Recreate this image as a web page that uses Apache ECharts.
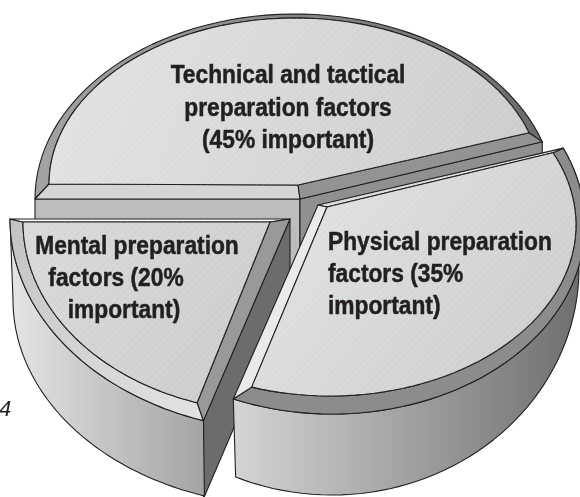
<!DOCTYPE html>
<html>
<head>
<meta charset="utf-8">
<style>
  html, body { margin: 0; padding: 0; background: #fff; }
  #echart { width: 580px; height: 497px; }
</style>
<script src="https://cdn.jsdelivr.net/npm/echarts@6/dist/echarts.min.js"></script>
</head>
<body>
<div id="echart"></div>
<script>
// values
var sliceNames = ["Technical and tactical", "Mental", "Physical"];
var sliceValues = [45, 20, 35];
var labelLines = [
    ["Technical and tactical", "preparation factors", "(45% important)"],
    ["Mental preparation", "factors (20%", "important)"],
    ["Physical preparation", "factors (35%", "important)"]
];
var sideNote = "4";

var LINE = "#231f20";

function grad(x2, y2, c0, c1) {
    return new echarts.graphic.LinearGradient(0, 0, x2, y2, [
        { offset: 0, color: c0 },
        { offset: 1, color: c1 }
    ]);
}

// the fine diagonal hatching on the top faces
function hatchTile() {
    var c = document.createElement("canvas");
    c.width = 7;
    c.height = 7;
    var ctx = c.getContext("2d");
    ctx.strokeStyle = "rgba(255,255,255,0.24)";
    ctx.lineWidth = 0.8;
    ctx.beginPath();
    ctx.moveTo(-1, 8);
    ctx.lineTo(8, -1);
    ctx.moveTo(-1, 1);
    ctx.lineTo(1, -1);
    ctx.moveTo(6, 8);
    ctx.lineTo(8, 6);
    ctx.stroke();
    return c;
}
var hatch = { image: hatchTile(), repeat: "repeat" };

// how each slice is projected: ellipses for the rim, the inner edge and the foot of the wall
var slices = [
    {
        hubOuter: [300, 199], hubInner: [298, 185], depth: 110,
        outer: { cx: 295, cy: 199, a: 260, b: 185, t0: 180, dir: -1, scale: 1 },
        inner: { cx: 295, cy: 184, a: 246, b: 166, t0: 180, dir: -1, scale: 1 },
        rim: grad(1, 0, "#a2a3a5", "#6a6b6d"),
        face: grad(1, 1, "#e2e3e5", "#cbccce"),
        cutStart: "#d4d5d7", cutEnd: "#929395",
        wallStart: "#bcbdbf", wallEnd: "#8f9092"
    },
    {
        hubOuter: [290, 219], hubInner: [270, 222], depth: 78,
        outer: { cx: 290, cy: 219, a: 280, b: 212, t0: 180, dir: 1, scale: 1 },
        inner: { cx: 275, cy: 222, a: 252, b: 190, t0: 180, dir: 1, scale: 1 },
        foot: { cx: 290, cy: 300, a: 277, b: 206, t0: 180, dir: 1, scale: 1 },
        wall: grad(1, 0, "#e4e5e6", "#a3a4a6"),
        rim: grad(1, 1, "#c2c3c5", "#e2e3e4"),
        face: grad(1, 1, "#d8d9db", "#cacbcd"),
        cutStart: "#ffffff", cutEnd: "#98999b",
        wallEnd: "#6b6c6e"
    },
    {
        hubOuter: [318, 205], hubInner: [327, 207],
        outer: { cx: 332, cy: 225, a: 253, b: 189, t0: 24, dir: -1, scale: 1.087 },
        inner: { cx: 330, cy: 225, a: 246, b: 171, t0: 25, dir: -1, scale: 1.06 },
        foot: { cx: 332, cy: 268, a: 247, b: 227, t0: 24, dir: -1, scale: 1.087 },
        wall: grad(1, 0, "#d4d5d7", "#6c6d6f"),
        rim: "#8b8c8e",
        face: grad(1, 1, "#e4e5e7", "#c9cacc"),
        cutStart: "#dcdddf", cutEnd: "#e9eaeb"
    }
];

function ring(r, value) {
    var pts = [];
    var span = value * 3.6 * r.scale;
    for (var i = 0; i <= 60; i++) {
        var t = (r.t0 + r.dir * span * i / 60) * Math.PI / 180;
        pts.push([r.cx + r.a * Math.cos(t), r.cy - r.b * Math.sin(t)]);
    }
    return pts;
}

function poly(points, fill, noLine) {
    return {
        type: "polygon",
        shape: { points: points },
        style: {
            fill: fill,
            stroke: noLine ? null : LINE,
            lineWidth: 1.1,
            lineJoin: "round"
        }
    };
}

function down(p, d) {
    return [p[0], p[1] + d];
}

function renderSlice(params, api) {
    var s = slices[params.dataIndex];
    var value = api.value(0);
    var out = ring(s.outer, value);
    var inn = ring(s.inner, value);
    var a0 = out[0], a1 = out[out.length - 1];
    var b0 = inn[0], b1 = inn[inn.length - 1];
    var kids = [];

    if (s.wallStart) {
        kids.push(poly([a0, s.hubOuter, down(s.hubOuter, s.depth), down(a0, s.depth)], s.wallStart));
    }
    if (s.wallEnd) {
        kids.push(poly([s.hubOuter, a1, down(a1, s.depth), down(s.hubOuter, s.depth)], s.wallEnd));
    }
    if (s.foot) {
        kids.push(poly(out.concat(ring(s.foot, value).reverse()), s.wall));
    }
    kids.push(poly(out.concat(inn.slice().reverse()), s.rim));
    kids.push(poly([s.hubOuter, a0, b0, s.hubInner], s.cutStart));
    kids.push(poly([s.hubOuter, a1, b1, s.hubInner], s.cutEnd));

    var facePts = [s.hubInner].concat(inn);
    kids.push(poly(facePts, s.face));
    kids.push(poly(facePts, hatch, true));

    return { type: "group", children: kids };
}

// text placement, one entry per line of each label
var labelPlace = [
    { x: [288, 288, 288], y: [76, 109, 141], align: "center" },
    { x: [137, 116, 124], y: [247, 279, 311], align: "center" },
    { x: [328, 328, 328], y: [243, 275, 307], align: "left" }
];

var textEls = [];
labelLines.forEach(function (lines, i) {
    lines.forEach(function (line, j) {
        textEls.push({
            type: "text",
            x: labelPlace[i].x[j],
            y: labelPlace[i].y[j],
            scaleX: 0.91,
            z: 10,
            style: {
                text: line,
                fill: LINE,
                stroke: LINE,
                lineWidth: 0.5,
                font: 'bold 25px "Liberation Sans", Arial, sans-serif',
                textAlign: labelPlace[i].align,
                textVerticalAlign: "middle"
            }
        });
    });
});
textEls.push({
    type: "text",
    x: 5,
    y: 410,
    z: 10,
    style: {
        text: sideNote,
        fill: LINE,
        font: 'italic 22px "Liberation Sans", Arial, sans-serif',
        textAlign: "center",
        textVerticalAlign: "middle"
    }
});

var chartDom = document.getElementById("echart");
var myChart = echarts.init(chartDom);

var option = {
    animation: false,
    backgroundColor: "#fff",
    graphic: textEls,
    series: [{
        type: "custom",
        coordinateSystem: "none",
        renderItem: renderSlice,
        data: sliceValues.map(function (v, i) {
            return { name: sliceNames[i], value: [v] };
        })
    }]
};

myChart.setOption(option);
</script>
</body>
</html>
